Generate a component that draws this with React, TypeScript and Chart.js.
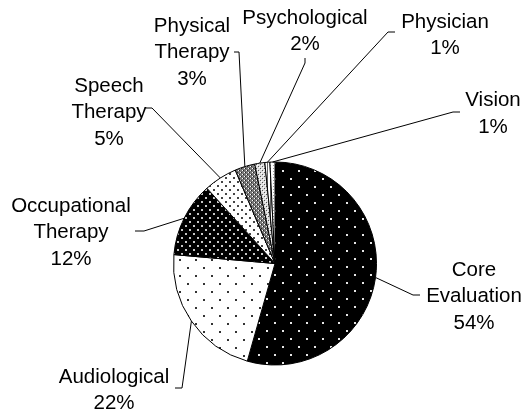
import React, { useEffect, useRef } from "react";
import { Chart, registerables } from "chart.js";

Chart.register(...registerables);

const categories = [
  "Core Evaluation",
  "Audiological",
  "Occupational Therapy",
  "Speech Therapy",
  "Physical Therapy",
  "Psychological",
  "Physician",
  "Vision",
];
const values = [54.4, 22.0, 11.9, 5.3, 3.2, 1.6, 0.8, 0.8];

// label layout: text centre x, first line centre y, leader elbow and end points
const labelLayout = [
  { cx: 474, y0: 268.5, elbow: [413, 295], end: [420, 295] },
  { cx: 114, y0: 375.5, elbow: [182, 388], end: [175, 388] },
  { cx: 71, y0: 204.5, elbow: [144, 231], end: [135, 231] },
  { cx: 109, y0: 84.5, elbow: [152, 108], end: [146, 108] },
  { cx: 192, y0: 24.5, elbow: [239, 52], end: [234, 52] },
  { cx: 305, y0: 16.5, elbow: [305, 63], end: [305, 58] },
  { cx: 445, y0: 20.5, elbow: [388, 32], end: [395, 32] },
  { cx: 493, y0: 99, elbow: [453, 112], end: [460, 112] },
];

const FONT_SIZE = 20.5;
const LINE_PITCH = 26.5;

function makePattern(
  size: number,
  bg: string,
  draw: (c: CanvasRenderingContext2D) => void
): CanvasPattern | string {
  const cv = document.createElement("canvas");
  cv.width = size;
  cv.height = size;
  const c = cv.getContext("2d");
  if (!c) return bg;
  c.fillStyle = bg;
  c.fillRect(0, 0, size, size);
  draw(c);
  const p = c.createPattern(cv, "repeat");
  return p || bg;
}

function buildPatterns() {
  return [
    // Core Evaluation: black with sparse light dots
    makePattern(16, "#000", (c) => {
      c.fillStyle = "#e6e6e6";
      c.fillRect(2, 2, 2, 2);
      c.fillRect(10, 10, 2, 2);
    }),
    // Audiological: white with sparse dark dots
    makePattern(16, "#fff", (c) => {
      c.fillStyle = "#333";
      c.fillRect(3, 3, 2, 2);
      c.fillRect(11, 11, 2, 2);
    }),
    // Occupational: black with dense light dots
    makePattern(8, "#000", (c) => {
      c.fillStyle = "#c8c8c8";
      c.fillRect(1, 1, 2, 2);
      c.fillRect(5, 5, 2, 2);
    }),
    // Speech: white with dense dark dots
    makePattern(8, "#fff", (c) => {
      c.fillStyle = "#444";
      c.fillRect(1, 1, 2, 2);
      c.fillRect(5, 5, 2, 2);
    }),
    // Physical: grey trellis
    makePattern(4, "#777", (c) => {
      c.fillStyle = "#fff";
      c.fillRect(0, 0, 1, 1);
      c.fillRect(2, 2, 1, 1);
      c.fillStyle = "#222";
      c.fillRect(1, 0, 1, 1);
      c.fillRect(3, 2, 1, 1);
    }),
    // Psychological: lighter trellis
    makePattern(4, "#ddd", (c) => {
      c.fillStyle = "#555";
      c.fillRect(0, 0, 1, 1);
      c.fillRect(2, 2, 1, 1);
      c.fillStyle = "#fff";
      c.fillRect(1, 1, 1, 1);
      c.fillRect(3, 3, 1, 1);
    }),
    // Physician
    makePattern(3, "#fff", (c) => {
      c.fillStyle = "#666";
      c.fillRect(0, 0, 1, 3);
    }),
    // Vision
    makePattern(3, "#fff", (c) => {
      c.fillStyle = "#999";
      c.fillRect(0, 0, 1, 1);
    }),
  ];
}

const labelPlugin = {
  id: "leaderLabels",
  afterDraw(chart: any) {
    const ctx: CanvasRenderingContext2D = chart.ctx;
    const meta = chart.getDatasetMeta(0);
    const data = chart.data.datasets[0].data as number[];
    const total = data.reduce((a, b) => a + b, 0);
    ctx.save();
    meta.data.forEach((arc: any, i: number) => {
      const lay = labelLayout[i];
      if (!lay) return;
      const props = arc.getProps(["x", "y", "startAngle", "endAngle", "outerRadius"], true);
      const mid = (props.startAngle + props.endAngle) / 2;
      const ax = props.x + Math.cos(mid) * props.outerRadius;
      const ay = props.y + Math.sin(mid) * props.outerRadius;
      ctx.strokeStyle = "#000";
      ctx.lineWidth = 1;
      ctx.beginPath();
      ctx.moveTo(ax, ay);
      ctx.lineTo(lay.elbow[0], lay.elbow[1]);
      ctx.lineTo(lay.end[0], lay.end[1]);
      ctx.stroke();

      const lines = String(chart.data.labels[i]).split(" ");
      lines.push(Math.round((data[i] / total) * 100) + "%");
      ctx.fillStyle = "#000";
      ctx.font = `${FONT_SIZE}px "Liberation Sans", Arial, sans-serif`;
      ctx.textAlign = "center";
      ctx.textBaseline = "alphabetic";
      lines.forEach((t, k) => {
        ctx.fillText(t, lay.cx, lay.y0 + k * LINE_PITCH + 0.358 * FONT_SIZE);
      });
    });
    ctx.restore();
  },
};

export default function App() {
  const ref = useRef<HTMLCanvasElement | null>(null);
  useEffect(() => {
    if (!ref.current) return;
    const chart = new Chart(ref.current, {
      type: "pie",
      data: {
        labels: categories,
        datasets: [
          {
            data: values,
            backgroundColor: buildPatterns() as any,
            borderColor: "#000",
            borderWidth: 1,
          },
        ],
      },
      options: {
        responsive: false,
        animation: false,
        layout: { padding: { left: 173, right: 153, top: 161, bottom: 45 } },
        plugins: {
          legend: { display: false },
          tooltip: { enabled: false },
        },
      },
      plugins: [labelPlugin],
    });
    return () => chart.destroy();
  }, []);
  return (
    <div style={{ position: "fixed", left: 0, top: 0, width: 530, height: 411, background: "#fff" }}>
      <canvas ref={ref} width={530} height={411} style={{ width: 530, height: 411 }} />
    </div>
  );
}
